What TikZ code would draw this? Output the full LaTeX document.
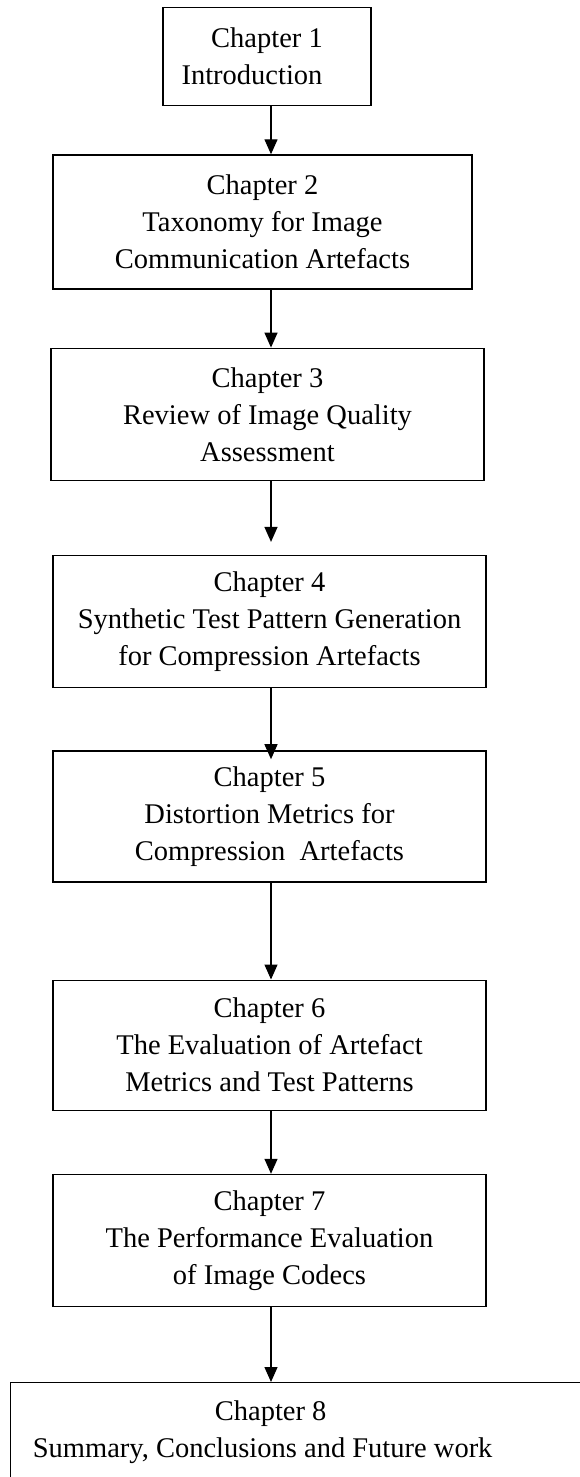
\documentclass[tikz,border=0pt]{standalone}
\usepackage{fontspec}
\setmainfont{Liberation Serif}
\usetikzlibrary{arrows.meta,positioning}

\begin{document}
\begin{tikzpicture}[x=1pt, y=-1pt, node distance=60pt]
    % Define styles
    \tikzstyle{chapter} = [rectangle, draw=black, line width=1.3pt, align=center, inner sep=0pt, font=\fontsize{28.5}{37}\selectfont]
    \tikzstyle{arrow} = [line width=1.3pt, -{Triangle[width=13pt, length=15pt]}]

    % Page frame
    \useasboundingbox (0,0) rectangle (580,1477);
    \clip (0,0) rectangle (580,1477);
    \coordinate (spine) at (271,0);

    % Chapters
    \node [chapter, minimum width=208pt, minimum height=98pt, anchor=north] (ch1) at (267,7) {Chapter 1\\Introduction\hspace*{30pt}};
    \node [chapter, minimum width=419pt, minimum height=134pt, below=48pt of ch1, xshift=-4.5pt] (ch2) {Chapter 2\\Taxonomy for Image\\Communication Artefacts};
    \node [chapter, minimum width=433pt, minimum height=132pt, below=58pt of ch2, xshift=5pt] (ch3) {Chapter 3\\Review of Image Quality\\Assessment};
    \node [chapter, minimum width=433pt, minimum height=132pt, below=74pt of ch3, xshift=2pt] (ch4) {Chapter 4\\Synthetic Test Pattern Generation\\for Compression Artefacts};
    \node [chapter, minimum width=433pt, minimum height=131pt, below=62pt of ch4] (ch5) {Chapter 5\\Distortion Metrics for\\Compression~~Artefacts};
    \node [chapter, minimum width=433pt, minimum height=130pt, below=97pt of ch5] (ch6) {Chapter 6\\The Evaluation of Artefact\\Metrics and Test Patterns};
    \node [chapter, minimum width=433pt, minimum height=132pt, below=63pt of ch6] (ch7) {Chapter 7\\The Performance Evaluation\\of Image Codecs};
    \node [chapter, anchor=north west, inner xsep=18pt, inner ysep=18.5pt, text depth=140pt] (ch8) at (10,1382) {\parbox[t]{468pt}{\centering \hspace*{16pt}Chapter 8\\Summary, Conclusions and Future work}\hspace*{200pt}};

    % Arrows
    \draw [arrow] (ch1.south -| spine) -- (ch2.north -| spine);
    \draw [arrow] (ch2.south -| spine) -- (ch3.north -| spine);
    \draw [arrow, shorten >=13pt] (ch3.south -| spine) -- (ch4.north -| spine);
    \draw [arrow, shorten >=-9pt] (ch4.south -| spine) -- (ch5.north -| spine);
    \draw [arrow] (ch5.south -| spine) -- (ch6.north -| spine);
    \draw [arrow] (ch6.south -| spine) -- (ch7.north -| spine);
    \draw [arrow] (ch7.south -| spine) -- (ch8.north -| spine);
\end{tikzpicture}
\end{document}
